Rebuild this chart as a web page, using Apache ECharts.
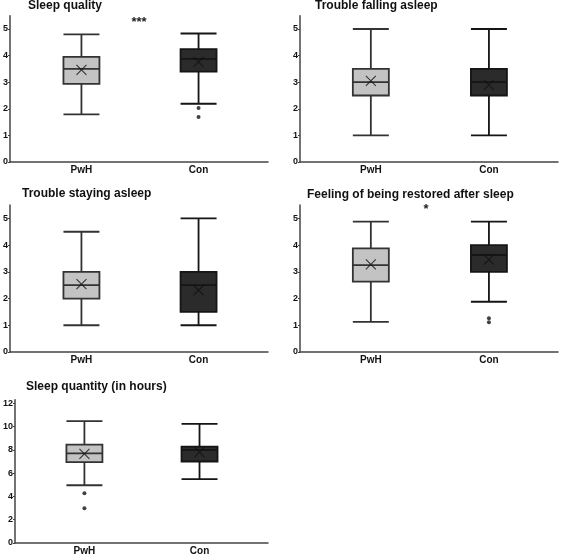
<!DOCTYPE html>
<html><head><meta charset="utf-8">
<script src="https://cdn.jsdelivr.net/npm/echarts@6/dist/echarts.min.js"></script>
<style>html,body{margin:0;padding:0;background:#fff}#c{width:561px;height:556px}</style>
</head><body><div id="c"></div>
<script>
const categories = ['PwH', 'Con'];
const titles = ['Sleep quality', 'Trouble falling asleep', 'Trouble staying asleep', 'Feeling of being restored after sleep', 'Sleep quantity (in hours)'];

// [min, Q1, median, Q3, max] per group
const sleepQualityBox = [[1.79, 2.94, 3.5, 3.95, 4.8], [2.19, 3.4, 3.88, 4.24, 4.83]];
const sleepQualityMean = [3.46, 3.76];
const sleepQualityOut = [[], [2.03, 1.69]];

const fallingBox = [[1, 2.5, 3, 3.5, 5], [1, 2.5, 3, 3.5, 5]];
const fallingMean = [3.05, 2.9];
const fallingOut = [[], []];

const stayingBox = [[1, 2, 2.5, 3, 4.5], [1, 1.5, 2.5, 3, 5]];
const stayingMean = [2.54, 2.31];
const stayingOut = [[], []];

const restoredBox = [[1.13, 2.63, 3.25, 3.88, 4.88], [1.88, 3.0, 3.63, 4.0, 4.88]];
const restoredMean = [3.28, 3.46];
const restoredOut = [[], [1.26, 1.11]];

const quantityBox = [[4.96, 6.95, 7.69, 8.45, 10.47], [5.48, 7.0, 8.0, 8.28, 10.24]];
const quantityMean = [7.66, 7.8];
const quantityOut = [[4.28, 2.98], []];

const yTicks5 = [0, 1, 2, 3, 4, 5];
const yTicks12 = [0, 2, 4, 6, 8, 10, 12];
const significance = ['***', '', '', '*', ''];

const panels = [
  {box: sleepQualityBox, mean: sleepQualityMean, out: sleepQualityOut, grid: {left: 8, top: 15.7, width: 260, height: 146.3}, x: [-0.61, 1.593], yMax: 5.5, yInt: 1, ticks: yTicks5},
  {box: fallingBox, mean: fallingMean, out: fallingOut, grid: {left: 300, top: 15.7, width: 258, height: 146.3}, x: [-0.60, 1.585], yMax: 5.5, yInt: 1, ticks: yTicks5},
  {box: stayingBox, mean: stayingMean, out: stayingOut, grid: {left: 8, top: 205, width: 260, height: 147}, x: [-0.61, 1.593], yMax: 5.5, yInt: 1, ticks: yTicks5},
  {box: restoredBox, mean: restoredMean, out: restoredOut, grid: {left: 300, top: 205, width: 258, height: 147}, x: [-0.60, 1.585], yMax: 5.5, yInt: 1, ticks: yTicks5},
  {box: quantityBox, mean: quantityMean, out: quantityOut, grid: {left: 13, top: 399.8, width: 255, height: 144.5}, x: [-0.603, 1.595], yMax: 12.3, yInt: 2, ticks: yTicks12}
];
const titlePos = [[28, 0], [315, 0], [22, 188], [307, 189], [26, 381]];
const sigPos = [[139, 16], null, null, [426, 203], null];

const FONT = 'Liberation Sans, Arial, sans-serif';
const fills = ['#c3c3c3', '#2b2b2b'];
const borders = ['#333333', '#151515'];

const option = {animation: false, backgroundColor: '#fff', title: [], grid: [], xAxis: [], yAxis: [], series: []};

panels.forEach((p, i) => {
  option.grid.push(Object.assign({containLabel: false}, p.grid));
  option.title.push({text: titles[i], left: titlePos[i][0], top: titlePos[i][1], padding: 0,
    textStyle: {fontFamily: FONT, fontWeight: 'bold', fontSize: 12, color: '#111'}});
  if (sigPos[i]) {
    option.title.push({text: significance[i], left: sigPos[i][0], top: sigPos[i][1], padding: 0, textAlign: 'center',
      textStyle: {fontFamily: FONT, fontWeight: 'bold', fontSize: 13, color: '#222'}});
  }
  option.xAxis.push({type: 'value', gridIndex: i, min: p.x[0], max: p.x[1],
    splitLine: {show: false}, axisTick: {show: false},
    axisLine: {show: true, onZero: false, lineStyle: {color: '#444', width: 1.5}},
    axisLabel: {customValues: [0, 1], formatter: v => categories[Math.round(v)], margin: 3,
      fontFamily: FONT, fontWeight: 'bold', fontSize: 10, color: '#111'}});
  option.yAxis.push({type: 'value', gridIndex: i, min: 0, max: p.yMax, interval: p.yInt,
    splitLine: {show: false},
    axisLine: {show: true, onZero: false, lineStyle: {color: '#444', width: 1.5}},
    axisTick: {show: true, length: 2, customValues: p.ticks, lineStyle: {color: '#444'}},
    axisLabel: {customValues: p.ticks, margin: 2, fontFamily: FONT, fontWeight: 'bold', fontSize: 9, color: '#111'}});
  option.series.push({type: 'boxplot', xAxisIndex: i, yAxisIndex: i, boxWidth: [36, 36], layout: 'horizontal',
    data: p.box.map((b, k) => ({value: [k].concat(b), itemStyle: {color: fills[k], borderColor: borders[k], borderWidth: 1.8}})),
    emphasis: {disabled: true}, z: 2});
  option.series.push({type: 'scatter', xAxisIndex: i, yAxisIndex: i, symbol: 'path://M0,0L10,10M10,0L0,10', symbolSize: 10,
    itemStyle: {color: 'none', borderColor: '#111', borderWidth: 1.1}, z: 5,
    data: p.mean.map((m, k) => [k, m])});
  const outs = [];
  p.out.forEach((arr, k) => arr.forEach(v => outs.push([k, v])));
  option.series.push({type: 'scatter', xAxisIndex: i, yAxisIndex: i, symbol: 'circle', symbolSize: 4,
    itemStyle: {color: '#111'}, z: 5, data: outs});
});

const chart = echarts.init(document.getElementById('c'), null, {renderer: 'canvas'});
chart.setOption(option);
</script></body></html>
